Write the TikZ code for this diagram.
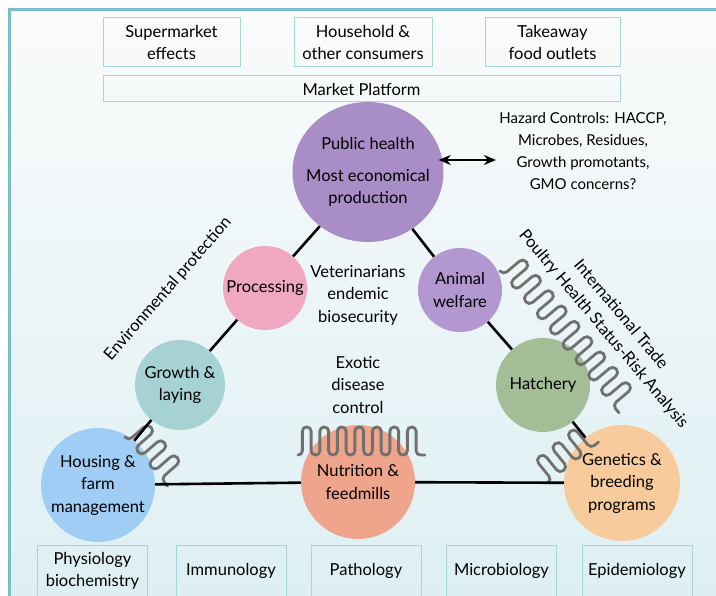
\documentclass[tikz,border=0pt]{standalone}
\usepackage{fontspec}
\setmainfont{Lato}
\usepackage{tikz}
\usetikzlibrary{positioning}
\usetikzlibrary{shapes.geometric}
\usetikzlibrary{arrows.meta}
\usepackage{xcolor}

\definecolor{frameteal}{RGB}{121,191,200}
\definecolor{boxteal}{RGB}{166,214,220}
\definecolor{bgtop}{RGB}{250,251,251}
\definecolor{bgbottom}{RGB}{221,239,243}
\definecolor{wiregray}{RGB}{112,112,112}
\definecolor{publicc}{RGB}{168,141,198}
\definecolor{procc}{RGB}{239,168,192}
\definecolor{welfarec}{RGB}{178,151,208}
\definecolor{growthc}{RGB}{166,210,211}
\definecolor{hatchc}{RGB}{163,190,150}
\definecolor{housingc}{RGB}{160,205,245}
\definecolor{nutric}{RGB}{239,165,140}
\definecolor{geneticc}{RGB}{248,203,156}

% x, y, angle, loops, period, height
\newcommand{\squiggle}[6]{%
  \draw[wire, rounded corners={#5/4.2*1pt}, shift={(#1,#2)}, rotate=#3]
    (0,0) -- ++({#5/4},0)
    \foreach \i in {1,...,#4} { -- ++(0,-#6) -- ++({#5/2},0) -- ++(0,#6) -- ++({#5/2},0) };
}

\begin{document}
\begin{tikzpicture}[x=1pt, y=-1pt,
    every node/.style={font=\fontsize{16.5}{22.5}\selectfont, align=center},
    small/.style={font=\fontsize{15}{22.3}\selectfont},
    bubble/.style={circle, inner sep=0pt},
    tagbox/.style={draw=boxteal, line width=1pt, inner sep=0pt},
    wire/.style={wiregray, line width=2.8pt, line cap=round},
    link/.style={black, line width=2.6pt}]
\useasboundingbox (0,0) rectangle (716,596);
\begin{scope}
\clip (0,0) rectangle (716,596);
\shade[top color=bgtop, bottom color=bgbottom] (9,10) rectangle (730,610);
\draw[frameteal, line width=3pt] (9,10) rectangle (730,610);
\end{scope}

% market boxes
\node[tagbox, minimum width=137pt, minimum height=49pt] (super) at (171.5,42.5) {Supermarket\\effects};
\node[tagbox, minimum width=138pt, minimum height=49pt] (house) at (363,42.5) {Household \&\\other consumers};
\node[tagbox, minimum width=135pt, minimum height=49pt] (takeaway) at (552.5,42.5) {Takeaway\\food outlets};
\node[tagbox, minimum width=517pt, minimum height=26pt] (market) at (361.5,89) {Market Platform};

% bubbles
\node[ellipse, fill=publicc, minimum width=151pt, minimum height=140pt, inner sep=0pt] (public) at (368,172) {};
\node (publictext) at (public) {Public health\\[9pt]Most economical\\production};
\node[bubble, fill=procc, minimum size=84pt] (proc) at (265,288) {Processing};
\node[bubble, fill=welfarec, minimum size=84pt] (welfare) at (460,290) {Animal\\welfare};
\node[bubble, fill=growthc, minimum size=90pt] (growth) at (180,385) {Growth \&\\laying};
\node[bubble, fill=hatchc, minimum size=94pt] (hatch) at (543,385) {Hatchery};
\node[bubble, fill=housingc, minimum size=114pt] (housing) at (98,485) {Housing \&\\farm\\management};
\node[bubble, fill=nutric, minimum size=114pt] (nutri) at (358,482) {Nutrition \&\\feedmills};
\node[bubble, fill=geneticc, minimum size=116pt] (genetic) at (622,483) {Genetics \&\\breeding\\programs};

% free texts
\node (vet) at (358,295) {Veterinarians\\endemic\\biosecurity};
\node (exotic) at (358,385) {Exotic\\disease\\control};
\node[small] (hazard) at (583,151) {Hazard Controls: HACCP,\\Microbes, Residues,\\Growth promotants,\\GMO concerns?};
\node[rotate=49] (env) at (168,289) {Environmental protection};
\node[rotate=-50] (trade) at (612,322) {International Trade\\Poultry Health Status-Risk Analysis};

% membranes
\squiggle{298}{455}{0}{7}{17.5}{28}
\squiggle{500}{271}{-50}{9}{20}{26}
\squiggle{125}{437}{-49}{3}{20}{26}
\squiggle{548}{483}{39}{3}{20}{26}

% links
\draw[link] (public) -- (proc);
\draw[link] (proc) -- (growth);
\draw[link] (growth) -- (housing);
\draw[link] (public) -- (welfare);
\draw[link] (welfare) -- (hatch);
\draw[link] (hatch) -- (genetic);
\draw[link] (housing) -- (nutri);
\draw[link] (nutri) -- (genetic);

\coordinate (arrowrow) at (0,160);
\draw[line width=1.8pt, {Stealth[length=12pt,width=10pt]}-{Stealth[length=12pt,width=10pt]}]
  ([xshift=-5pt]public.east |- arrowrow) -- (hazard.west |- arrowrow);

% science boxes
\node[tagbox, minimum width=110pt, minimum height=52pt] (physio) at (92.5,571) {Physiology\\biochemistry};
\node[tagbox, minimum width=110pt, minimum height=52pt] (immuno) at (231,571) {Immunology};
\node[tagbox, minimum width=110pt, minimum height=52pt] (patho) at (366,571) {Pathology};
\node[tagbox, minimum width=110pt, minimum height=52pt] (micro) at (501.5,571) {Microbiology};
\node[tagbox, minimum width=110pt, minimum height=52pt] (epidem) at (637,571) {Epidemiology};
\end{tikzpicture}
\end{document}
